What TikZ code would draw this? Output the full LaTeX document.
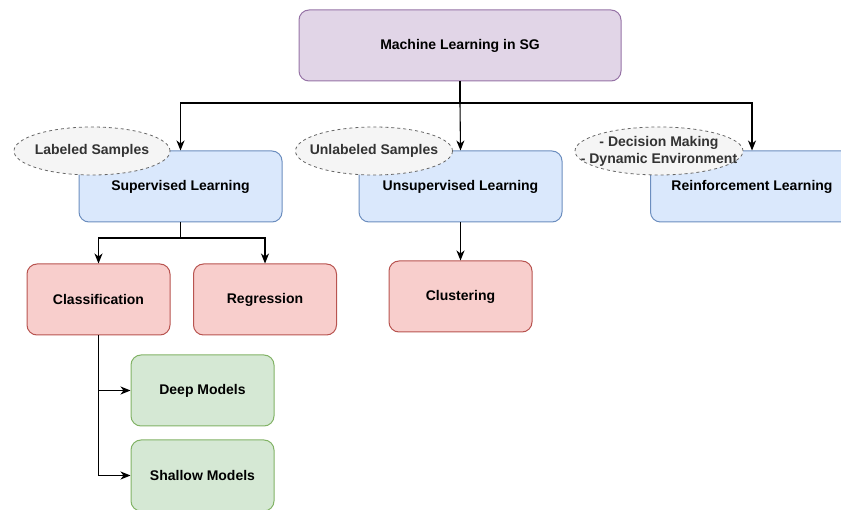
\documentclass[tikz,border=0pt]{standalone}
\usepackage{fontspec}
\setmainfont{Liberation Sans}
\usepackage{xcolor}
\usepackage{tikz}
\usetikzlibrary{shapes.geometric,arrows.meta,positioning,calc}

\definecolor{topfill}{HTML}{E1D5E7}
\definecolor{topline}{HTML}{9673A6}
\definecolor{bluefill}{HTML}{DAE8FC}
\definecolor{blueline}{HTML}{6C8EBF}
\definecolor{redfill}{HTML}{F8CECC}
\definecolor{redline}{HTML}{B85450}
\definecolor{greenfill}{HTML}{D5E8D4}
\definecolor{greenline}{HTML}{82B366}
\definecolor{notefill}{HTML}{F5F5F5}
\definecolor{noteline}{HTML}{666666}
\definecolor{notetext}{HTML}{333333}

\begin{document}
\begin{tikzpicture}[
  x=1pt, y=-1pt,
  font=\fontsize{14}{17}\selectfont\bfseries,
  box/.style={draw,rounded corners=10pt,line width=1pt,align=center,minimum height=71pt,inner sep=0pt},
  topbox/.style={box,fill=topfill,draw=topline,minimum width=322pt},
  learnbox/.style={box,fill=bluefill,draw=blueline,minimum width=203pt},
  taskbox/.style={box,fill=redfill,draw=redline,minimum width=143pt},
  modelbox/.style={box,fill=greenfill,draw=greenline,minimum width=143pt},
  note/.style={ellipse,draw=noteline,fill=notefill,dashed,line width=0.8pt,text=notetext,align=center,minimum height=48pt,inner sep=-60pt},
  arrow/.style={-{Stealth[length=10pt,width=8pt,inset=3pt]},line width=1.1pt},
]
\useasboundingbox (0,0) rectangle (841,510);

\node[topbox] (ml) at (460,45.5) {Machine Learning in SG};

\node[learnbox] (sup) at (180.5,186.5) {Supervised Learning};
\node[learnbox] (unsup) at (460.5,186.5) {Unsupervised Learning};
\node[learnbox] (rein) at (752,186.5) {Reinforcement Learning};

\node[note,minimum width=156pt] (lab) at (92,151) {Labeled Samples};
\node[note,minimum width=157pt] (unlab) at (374,151) {Unlabeled Samples};
\node[note,minimum width=168pt] (dec) at (659,151) {- Decision Making\\- Dynamic Environment};

\node[taskbox] (cls) at (98.5,299.5) {Classification};
\node[taskbox] (reg) at (265,299.5) {Regression};
\node[taskbox] (clu) at (460.5,296.5) {Clustering};

\node[modelbox] (deep) at (202.5,390.5) {Deep Models};
\node[modelbox] (shallow) at (202.5,475.5) {Shallow Models};

% top level split
\coordinate (hub) at (460,103);
\draw[line width=1.1pt] (ml.south) -- (hub);
\draw[arrow] (hub) -| (sup.north);
\draw[arrow] (hub) -- (unsup.north);
\draw[arrow] (hub) -| (rein.north);

% supervised tasks
\coordinate (fork) at (180.5,238);
\draw[line width=1.1pt] (sup.south) -- (fork);
\draw[arrow] (fork) -| (cls.north);
\draw[arrow] (fork) -| (reg.north);
\draw[arrow] (unsup.south) -- (clu.north);

% classification models
\draw[arrow] (cls.south) |- (deep.west);
\draw[arrow] (cls.south) |- (shallow.west);
\end{tikzpicture}
\end{document}
